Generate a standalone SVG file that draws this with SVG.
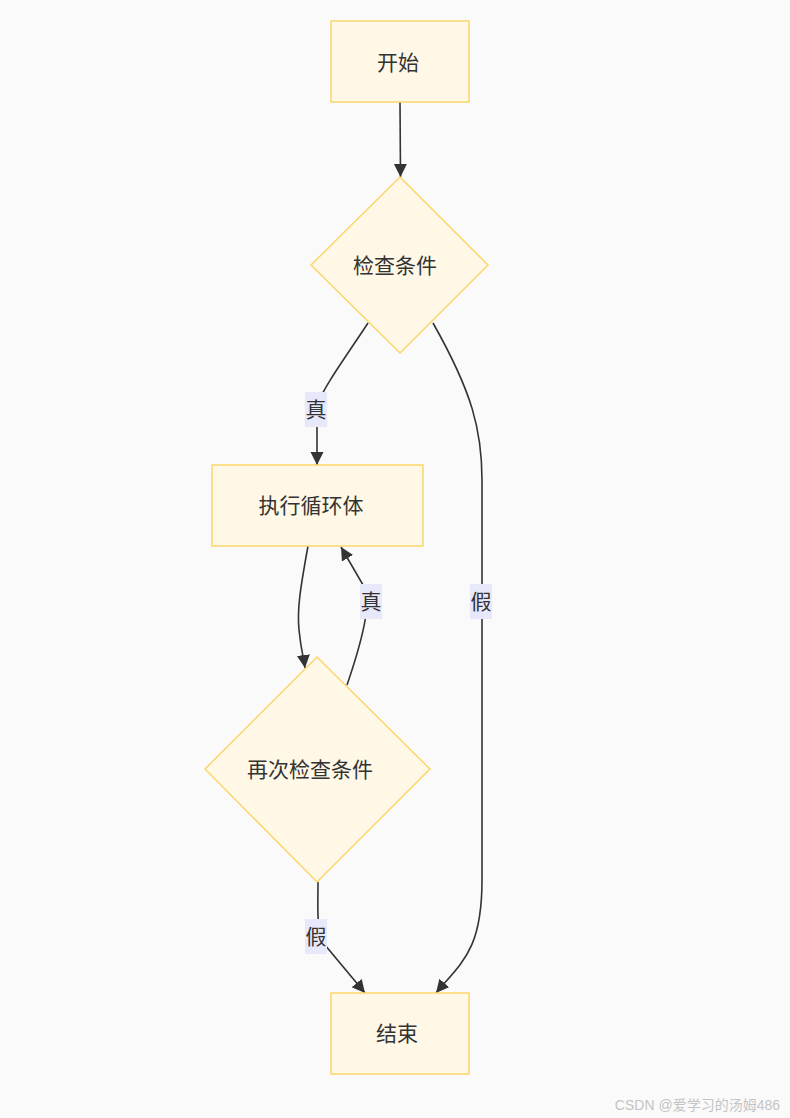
<svg xmlns="http://www.w3.org/2000/svg" width="790" height="1118" viewBox="0 0 790 1118">
<defs>
<marker id="arr" markerUnits="userSpaceOnUse" markerWidth="16" markerHeight="16" refX="13" refY="6.5" orient="auto">
<path d="M0,0 L13,6.5 L0,13 z" fill="#333333"/>
</marker>
<style>
.node{fill:#fff8e6;stroke:#fcd66a;stroke-width:1.5}
.t{font-family:"Liberation Sans","Noto Sans CJK SC",sans-serif;font-size:21px;fill:#333333;text-anchor:middle;dominant-baseline:central}
.e{fill:none;stroke:#333333;stroke-width:1.6}
.lb{fill:#e8e8fb}
</style>
</defs>
<rect width="790" height="1118" fill="#fafafa"/>
<g id="connectors">
<path class="e" d="M400,102 L400.5,177" marker-end="url(#arr)"/>
<path class="e" d="M368,323 C345,358 325,385 317,405 L317,465" marker-end="url(#arr)"/>
<path class="e" d="M433,323 C472,392 482,430 482,480 L482,880 C482,950 462,962 436,993" marker-end="url(#arr)"/>
<path class="e" d="M308,546 C300,590 297,610 299,630 C301,650 304,660 305,668" marker-end="url(#arr)"/>
<path class="e" d="M347,685 Q372,612 366,590 L341,547" marker-end="url(#arr)"/>
<path class="e" d="M318,882 C318,912 316,930 325,945 L365,993" marker-end="url(#arr)"/>
<rect class="lb" x="305" y="392" width="22" height="35"/>
<text class="t" x="316" y="409">真</text>
<rect class="lb" x="360" y="584" width="22" height="35"/>
<text class="t" x="371" y="601">真</text>
<rect class="lb" x="470" y="584" width="22" height="35"/>
<text class="t" x="481" y="601">假</text>
<rect class="lb" x="305" y="919" width="22" height="35"/>
<text class="t" x="316" y="936">假</text>
</g>
<g id="start">
<rect class="node" x="331" y="21" width="138" height="81"/>
<text class="t" x="398" y="62">开始</text>
</g>
<g id="check1">
<polygon class="node" points="400,177 488,265 400,353 311,265"/>
<text class="t" x="395" y="265">检查条件</text>
</g>
<g id="body">
<rect class="node" x="212" y="465" width="211" height="81"/>
<text class="t" x="311" y="505">执行循环体</text>
</g>
<g id="check2">
<polygon class="node" points="317,657 430,769 317,882 205,769"/>
<text class="t" x="310" y="769">再次检查条件</text>
</g>
<g id="end">
<rect class="node" x="331" y="993" width="138" height="81"/>
<text class="t" x="397" y="1033">结束</text>
</g>
<text x="780" y="1110" font-family="Liberation Sans,'Noto Sans CJK SC',sans-serif" font-size="14" fill="#c4c4c4" text-anchor="end">CSDN @爱学习的汤姆486</text>
</svg>
